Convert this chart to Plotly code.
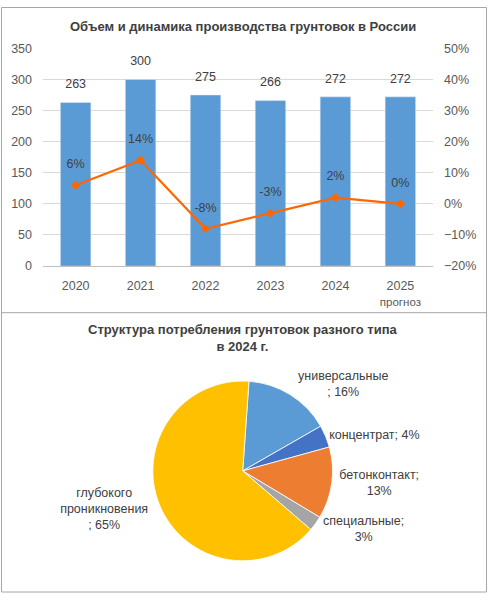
import plotly.graph_objects as go

W, H = 488, 600

years = ["2020", "2021", "2022", "2023", "2024", "2025"]
year_ticks = ["2020", "2021", "2022", "2023", "2024",
              "2025<br><span style='font-size:11.5px'>прогноз</span>"]
volume = [263, 300, 275, 266, 272, 272]
growth = [0.06, 0.14, -0.08, -0.03, 0.02, 0.00]

pie_labels = ["универсальные", "концентрат", "бетонконтакт", "специальные", "глубокого<br>проникновения"]
pie_values = [15.6, 4.0, 12.9, 2.7, 64.8]
pie_colors = ["#5B9BD5", "#4472C4", "#ED7D31", "#A5A5A5", "#FFC000"]
pie_templates = ["%{label}<br>; %{percent:.0%}", "%{label}; %{percent:.0%}",
                 "%{label};<br>%{percent:.0%}", "%{label};<br>%{percent:.0%}",
                 "%{label}<br>; %{percent:.0%}"]

FONT = "Liberation Sans, Arial, sans-serif"
TXT = "#404040"
TICK = "#595959"


def px(x):
    return x / W


def py(y):
    return 1 - y / H


fig = go.Figure()

fig.add_trace(go.Bar(
    x=years, y=volume, marker_color="#5B9BD5",
    xaxis="x", yaxis="y", showlegend=False, hoverinfo="skip",
))

# bar value labels
fig.add_trace(go.Scatter(
    x=years, y=volume, mode="markers+text",
    marker=dict(size=16, opacity=0),
    text=[str(v) for v in volume], textposition="top center",
    textfont=dict(size=12.5, color=TXT, family=FONT),
    xaxis="x", yaxis="y", showlegend=False, hoverinfo="skip", cliponaxis=False,
))

fig.add_trace(go.Scatter(
    x=years, y=growth, mode="lines+markers",
    line=dict(color="#FF6600", width=2.25),
    marker=dict(symbol="diamond", size=7, color="#FF6600"),
    xaxis="x", yaxis="y2", showlegend=False, hoverinfo="skip", cliponaxis=False,
))

# growth labels
fig.add_trace(go.Scatter(
    x=years, y=growth, mode="markers+text",
    marker=dict(size=21, opacity=0),
    text=[f"{round(v*100):.0f}%" for v in growth], textposition="top center",
    textfont=dict(size=12.5, color=TXT, family=FONT),
    xaxis="x", yaxis="y2", showlegend=False, hoverinfo="skip", cliponaxis=False,
))

fig.add_trace(go.Pie(
    labels=pie_labels, values=pie_values, sort=False, direction="clockwise",
    rotation=4, marker=dict(colors=pie_colors, line=dict(color="white", width=0.8)),
    texttemplate=pie_templates, textposition="outside",
    textfont=dict(size=12.5, color=TXT, family=FONT),
    domain=dict(x=[px(242.7 - 92), px(242.7 + 92)], y=[py(475 + 92), py(475 - 92)]),
    showlegend=False, hoverinfo="skip",
))

fig.update_layout(
    width=W, height=H, margin=dict(l=0, r=0, t=0, b=0),
    paper_bgcolor="white", plot_bgcolor="white",
    font=dict(family=FONT, color=TICK, size=12.5),
    bargap=0.53,
    xaxis=dict(domain=[px(43), px(433)], anchor="y", tickvals=years, ticktext=year_ticks,
               showgrid=False, showline=True, linecolor="#BFBFBF", linewidth=1,
               ticks="", ticklabelstandoff=8, tickfont=dict(size=12.5, color=TICK)),
    yaxis=dict(domain=[py(265.3), py(42.3)], range=[0, 350], dtick=50, showgrid=True,
               gridcolor="#D9D9D9", gridwidth=1, zeroline=False, ticks="",
               ticklabelstandoff=10, tickfont=dict(size=12.5, color=TICK)),
    yaxis2=dict(domain=[py(265.3), py(42.3)], range=[-0.2, 0.5], dtick=0.1, tickformat=".0%",
                overlaying="y", side="right", anchor="x", showgrid=False, zeroline=False,
                ticks="", ticklabelstandoff=10, tickfont=dict(size=12.5, color=TICK)),
    annotations=[
        dict(text="<b>Объем и динамика производства грунтовок в России</b>",
             x=px(243), y=py(20), xref="paper", yref="paper", showarrow=False,
             font=dict(size=13, color=TXT, family=FONT), xanchor="center", yanchor="middle"),
        dict(text="<b>Структура потребления грунтовок разного типа<br>в 2024 г.</b>",
             x=px(243), y=py(339), xref="paper", yref="paper", showarrow=False,
             font=dict(size=13, color=TXT, family=FONT), xanchor="center", yanchor="middle"),
    ],
    shapes=[
        dict(type="rect", xref="paper", yref="paper", x0=px(1.5), x1=px(486.5),
             y0=py(599), y1=py(0.5), line=dict(color="#A6A6A6", width=1)),
        dict(type="line", xref="paper", yref="paper", x0=px(1.5), x1=px(486.5),
             y0=py(313), y1=py(313), line=dict(color="#A6A6A6", width=1)),
    ],
)

fig.write_html("out.html", config={"displayModeBar": False},
               post_script="document.body.style.margin='0';document.body.style.overflow='hidden';")
